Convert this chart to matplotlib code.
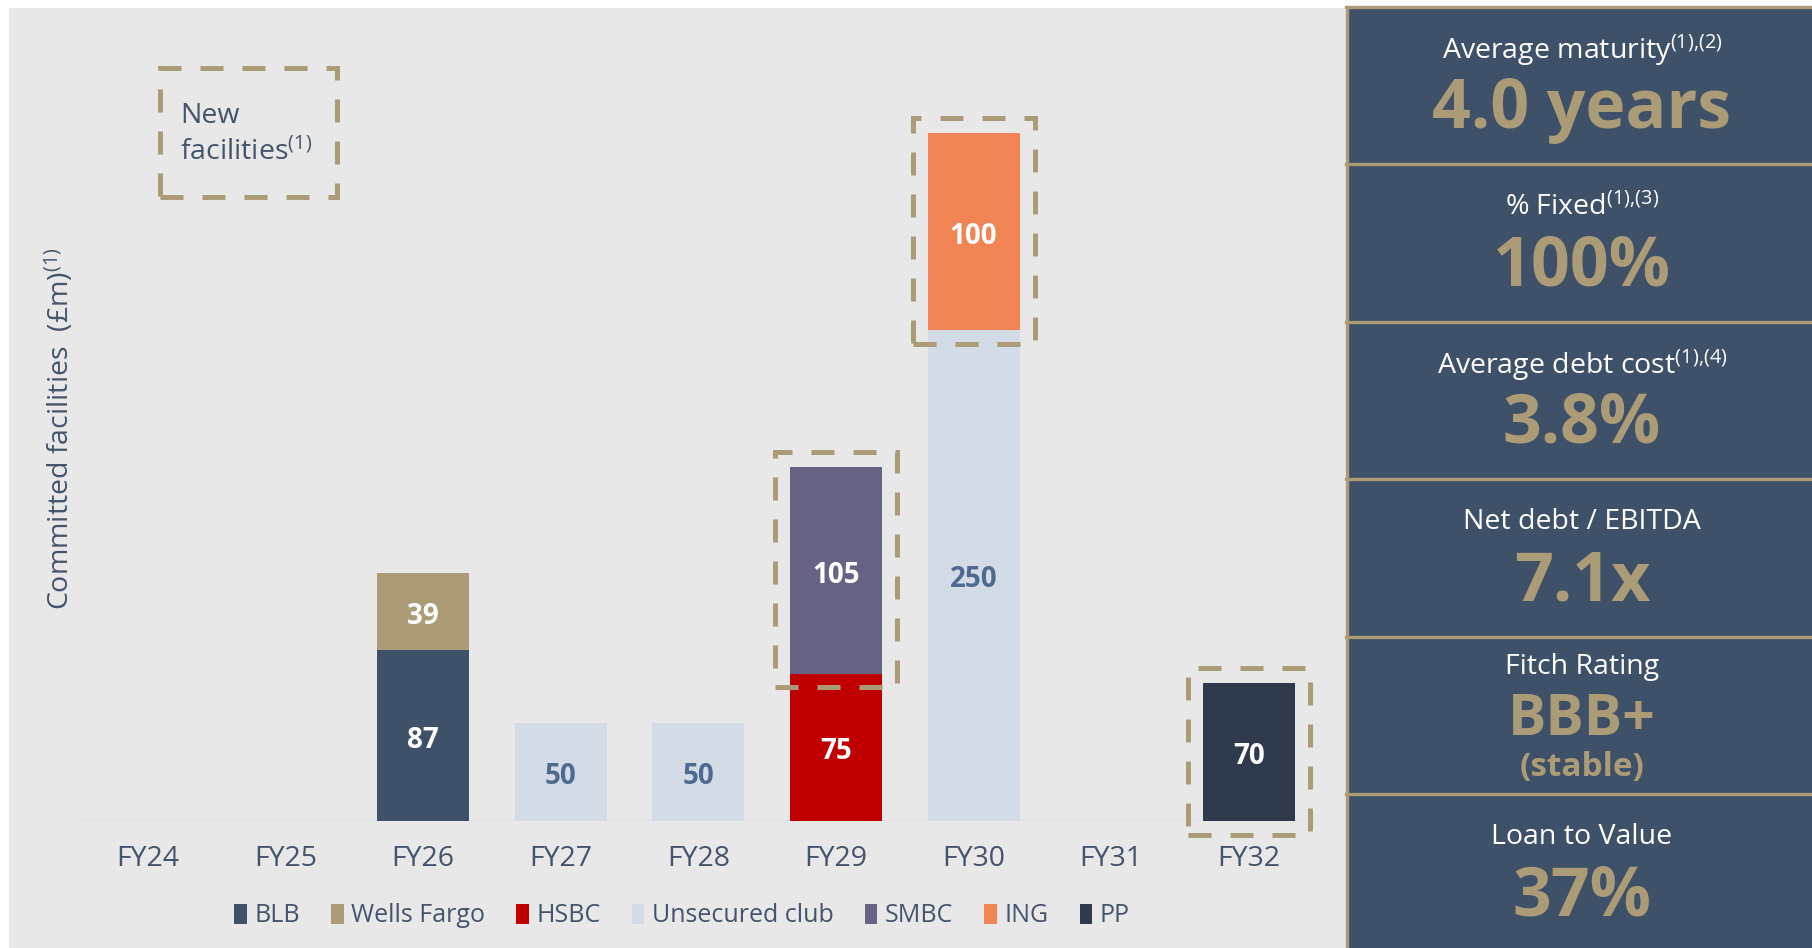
import numpy as np
import matplotlib
matplotlib.use('Agg')
import matplotlib.pyplot as plt
import matplotlib.patches as patches
from matplotlib.patches import Patch

plt.rcParams['font.family'] = ['Open Sans', 'DejaVu Sans']
plt.rcParams['mathtext.fontset'] = 'custom'
plt.rcParams['mathtext.rm'] = 'Open Sans'
plt.rcParams['mathtext.it'] = 'Open Sans'
plt.rcParams['mathtext.bf'] = 'Open Sans:bold'

# committed facilities by maturity year (GBP m)
years = ['FY24', 'FY25', 'FY26', 'FY27', 'FY28', 'FY29', 'FY30', 'FY31', 'FY32']
blb = [0, 0, 87, 0, 0, 0, 0, 0, 0]
wells_fargo = [0, 0, 39, 0, 0, 0, 0, 0, 0]
hsbc = [0, 0, 0, 0, 0, 75, 0, 0, 0]
unsecured_club = [0, 0, 0, 50, 50, 0, 250, 0, 0]
smbc = [0, 0, 0, 0, 0, 105, 0, 0, 0]
ing = [0, 0, 0, 0, 0, 0, 100, 0, 0]
pp = [0, 0, 0, 0, 0, 0, 0, 0, 70]

series_names = ['BLB', 'Wells Fargo', 'HSBC', 'Unsecured club', 'SMBC', 'ING', 'PP']
series_values = [blb, wells_fargo, hsbc, unsecured_club, smbc, ing, pp]
new_facilities = ['SMBC', 'ING', 'PP']

# key metrics panel
panel_titles = ['Average maturity', '% Fixed', 'Average debt cost', 'Net debt / EBITDA', 'Fitch Rating', 'Loan to Value']
panel_notes = ['(1){,}(2)', '(1){,}(3)', '(1){,}(4)', '', '', '']
panel_values = ['4.0 years', '100%', '3.8%', '7.1x', 'BBB+', '37%']
fitch_outlook = '(stable)'

colors = {'BLB': '#3f5168', 'Wells Fargo': '#ab9b77', 'HSBC': '#c00000',
          'Unsecured club': '#d3dce6', 'SMBC': '#676385', 'ING': '#f08454', 'PP': '#2f3b4d'}
label_colors = {'Unsecured club': '#4f6a8f'}
gold = '#ab9b77'
navy = '#3f5168'
text_col = '#44546c'

W, H = 1812, 948
fig = plt.figure(figsize=(W / 100, H / 100), dpi=100)
fig.patch.set_facecolor('white')


def fx(x):
    return x / W


def fy(y):
    return 1 - y / H


# grey chart area
fig.patches.append(patches.Rectangle((fx(9), 0), fx(1346) - fx(9), fy(8), transform=fig.transFigure,
                                     facecolor='#e8e8e8', edgecolor='none', zorder=-2))

# axes: 137.6 px per category, 1.965 px per £m
step = 137.6
px_per_unit = 1.965
left = 148 - step / 2
base = 821
ax = fig.add_axes([fx(left), fy(base), fx(step * 9), (base - 8) / H])
ax.set_zorder(2)
ax.set_xlim(-0.5, 8.5)
ax.set_ylim(0, (base - 8) / px_per_unit)
ax.patch.set_alpha(0)
for s in ax.spines.values():
    s.set_visible(False)
ax.set_yticks([])
ax.set_xticks(range(len(years)))
ax.set_xticklabels(years, fontsize=20.5, color=text_col)
ax.tick_params(axis='x', length=0, pad=17.5)
ax.axhline(0, color='#dde4ec', lw=2, zorder=1)

bw = 92 / step
x = np.arange(len(years))
bottom = np.zeros(len(years))
for name, vals in zip(series_names, series_values):
    vals = np.array(vals, dtype=float)
    ax.bar(x, vals, bw, bottom=bottom, color=colors[name], zorder=2)
    for i, v in enumerate(vals):
        if v > 0:
            ax.annotate(f'{v:.0f}', (i, bottom[i] + v / 2), xytext=(0, -3.3), textcoords='offset points',
                        ha='center', va='center', fontsize=20, fontweight='bold',
                        color=label_colors.get(name, 'white'), zorder=3)
            if name in new_facilities:
                padx = 15 / step
                ax.add_patch(patches.Rectangle((i - bw / 2 - padx, bottom[i] - 7),
                                               bw + 2 * padx, v + 15, fill=False,
                                               edgecolor=gold, lw=3.6, linestyle=(0, (4.6, 3.8)),
                                               clip_on=False, zorder=4))
    bottom += vals

# "New facilities" key box
fig.patches.append(patches.Rectangle((fx(160), fy(197)), fx(177), (197 - 68) / H, transform=fig.transFigure,
                                     fill=False, edgecolor=gold, lw=3.6, linestyle=(0, (4.6, 3.8)), zorder=3))
fig.text(fx(180), fy(116), 'New', fontsize=20.5, color=text_col, va='center', ha='left')
fig.text(fx(180), fy(153), 'facilities$^{(1)}$', fontsize=20.5, color=text_col, va='center', ha='left')

fig.text(fx(60), fy(429), 'Committed facilities  (£m)$^{(1)}$', fontsize=20.5, color=text_col,
         rotation=90, ha='center', va='center')

handles = [Patch(facecolor=colors[n], edgecolor='none', label=n) for n in series_names]
fig.legend(handles=handles, loc='center', bbox_to_anchor=(fx(682), fy(916)), ncol=7, frameon=False,
           fontsize=18, labelcolor=text_col, handlelength=0.5, handleheight=0.85,
           handletextpad=0.3, columnspacing=1.25)

# right-hand metrics panel
px0 = 1346
fig.patches.append(patches.Rectangle((fx(px0), 0), 1 - fx(px0), fy(7), transform=fig.transFigure,
                                     facecolor=navy, edgecolor='none', zorder=1))
box_h = 157.4
tops = [7 + k * box_h for k in range(6)]
for t in tops:
    fig.add_artist(plt.Line2D([fx(px0), 1], [fy(t), fy(t)], color=gold, lw=2.4, zorder=2))
fig.add_artist(plt.Line2D([fx(px0 + 1), fx(px0 + 1)], [0, fy(7)], color=gold, lw=2.4, zorder=2))

cx = fx(1582)
for k, (title, note, value) in enumerate(zip(panel_titles, panel_notes, panel_values)):
    t = tops[k]
    label = title + (f'$^{{{note}}}$' if note else '')
    if value == 'BBB+':
        fig.text(cx, fy(t + 30), label, fontsize=20.5, color='white', ha='center', va='center', zorder=3)
        fig.text(cx, fy(t + 83), value, fontsize=41, color=gold, fontweight='bold',
                 ha='center', va='center', zorder=3)
        fig.text(cx, fy(t + 131), fitch_outlook, fontsize=24, color=gold, fontweight='bold',
                 ha='center', va='center', zorder=3)
    else:
        fig.text(cx, fy(t + 43), label, fontsize=20.5, color='white', ha='center', va='center', zorder=3)
        fig.text(cx, fy(t + 103), value, fontsize=49, color=gold, fontweight='bold',
                 ha='center', va='center', zorder=3)

plt.savefig('out.png', dpi=100)
plt.close()
